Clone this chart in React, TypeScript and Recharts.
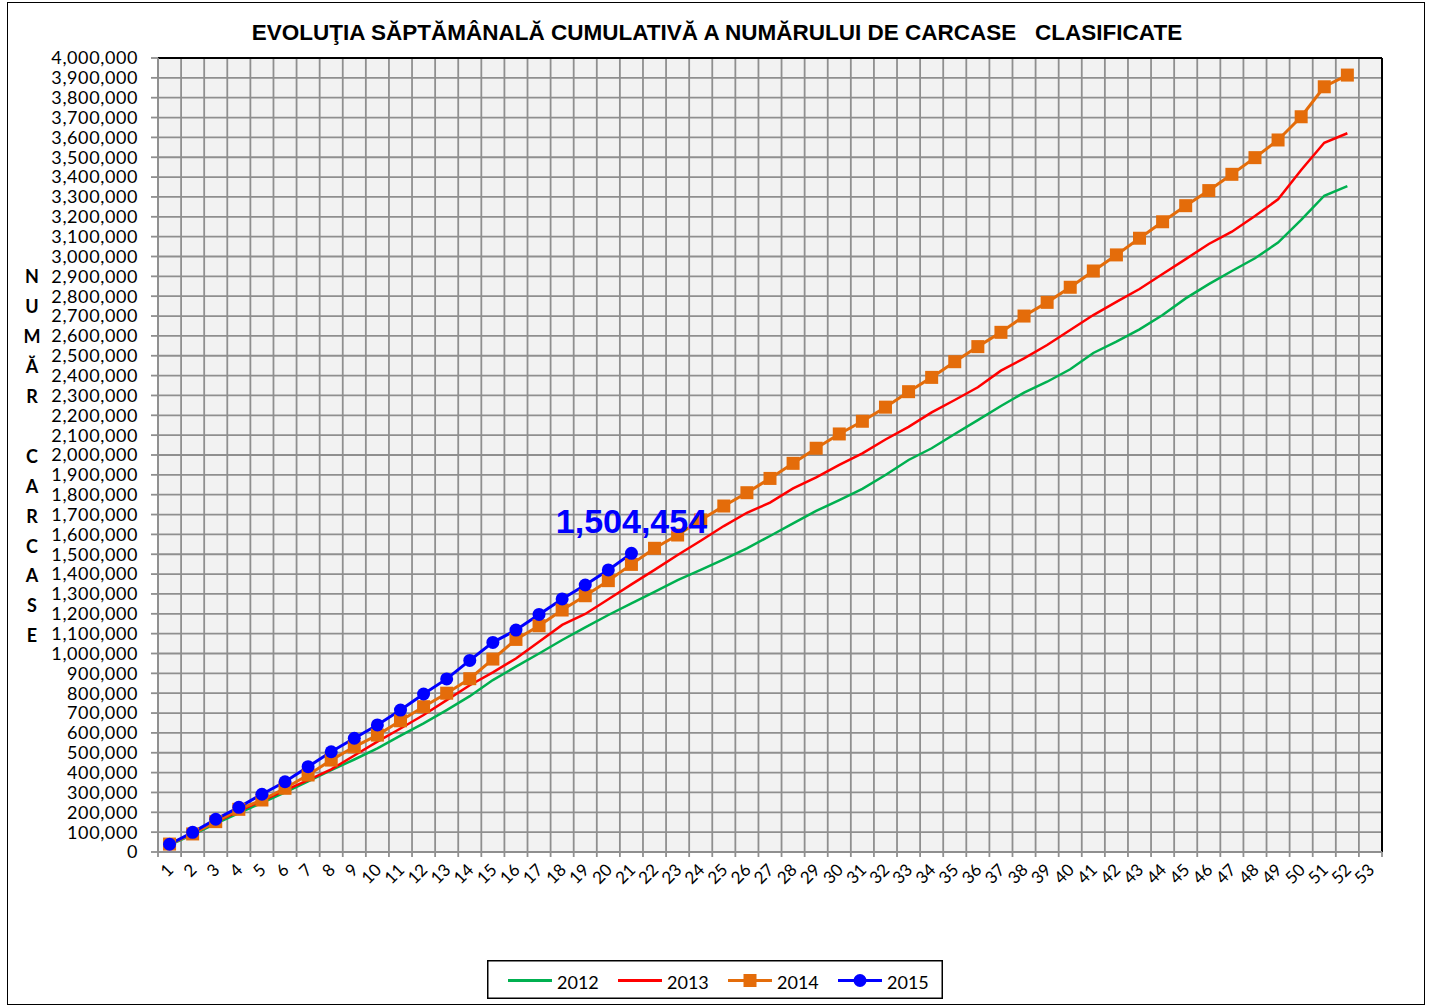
import React from 'react';
import { LineChart, Line, XAxis, YAxis, CartesianGrid, ReferenceLine, LabelList } from 'recharts';

// week numbers on the category axis (53 slots, data runs to 52)
const weekLabels = [
  1, 2, 3, 4, 5, 6, 7, 8, 9, 10, 11, 12, 13, 14, 15, 16, 17, 18, 19, 20,
  21, 22, 23, 24, 25, 26, 27, 28, 29, 30, 31, 32, 33, 34, 35, 36, 37, 38, 39, 40,
  41, 42, 43, 44, 45, 46, 47, 48, 49, 50, 51, 52, 53,
];

const y2012 = [
  35000, 88000, 143000, 196000, 248000, 300000, 356000, 412000, 466000, 522000,
  586000, 648000, 715000, 785000, 866000, 934000, 1000000, 1068000, 1132000, 1194000,
  1253000, 1311000, 1370000, 1421000, 1474000, 1530000, 1592000, 1656000, 1718000, 1773000,
  1829000, 1899000, 1975000, 2034000, 2106000, 2176000, 2247000, 2314000, 2369000, 2432000,
  2514000, 2571000, 2633000, 2705000, 2789000, 2861000, 2927000, 2991000, 3070000, 3184000,
  3306000, 3355000,
];

const y2013 = [
  40000, 94000, 150000, 206000, 258000, 310000, 362000, 416000, 486000, 556000,
  622000, 690000, 765000, 840000, 905000, 975000, 1059000, 1144000, 1199000, 1273000,
  1348000, 1421000, 1496000, 1568000, 1642000, 1709000, 1760000, 1832000, 1887000, 1950000,
  2008000, 2078000, 2142000, 2215000, 2277000, 2341000, 2425000, 2487000, 2554000, 2630000,
  2705000, 2771000, 2836000, 2912000, 2987000, 3063000, 3125000, 3204000, 3288000, 3436000,
  3573000, 3621000,
];

const y2014 = [
  40000, 91000, 153000, 215000, 262000, 321000, 388000, 463000, 530000, 589000,
  661000, 732000, 800000, 873000, 972000, 1071000, 1140000, 1219000, 1291000, 1367000,
  1449000, 1530000, 1597000, 1673000, 1743000, 1810000, 1882000, 1958000, 2034000, 2106000,
  2170000, 2241000, 2319000, 2391000, 2470000, 2546000, 2618000, 2700000, 2769000, 2845000,
  2927000, 3008000, 3092000, 3175000, 3256000, 3332000, 3414000, 3498000, 3587000, 3704000,
  3855000, 3914000,
];

const y2015 = [
  39000, 99000, 165000, 225000, 291000, 354000, 430000, 505000, 573000, 640000,
  715000, 796000, 872000, 965000, 1056000, 1118000, 1197000, 1275000, 1345000, 1421000,
  1504454,
];

const yTicks = Array.from({ length: 41 }, (_, i) => i * 100000);
const xBoundaries = [...weekLabels.map((w) => w - 0.5), 53.5];

const data = weekLabels.slice(0, 52).map((w, i) => ({
  week: w,
  a2012: y2012[i],
  a2013: y2013[i],
  a2014: y2014[i],
  a2015: i < y2015.length ? y2015[i] : null,
}));

const GRID = '#8f8f8f';
const C2012 = '#00b050';
const C2013 = '#ff0000';
const C2014 = '#e46c0a';
const C2015 = '#0000ff';
const LABEL_FONT = 'Lato, "Noto Sans", sans-serif';

const PLOT_W = 1224;
const HALF_BAND = PLOT_W / 53 / 2;

const fmt = (v: number) => v.toLocaleString('en-US');

const WeekTick = ({ x, y, payload }: any) => {
  const v = payload.value + 0.5;
  if (v > 53) return null;
  const px = x + HALF_BAND + 5;
  const py = y + 12;
  return (
    <text x={px} y={py} transform={`rotate(-45 ${px} ${py})`} textAnchor="end"
      fontFamily={LABEL_FONT} fontSize={17} fill="#000">
      {v}
    </text>
  );
};

const SquareDot = ({ cx, cy }: any) => {
  if (cx == null || cy == null) return null;
  return <rect x={cx - 6.5} y={cy - 6.5} width={13} height={13} fill={C2014} />;
};

const LastValue = (props: any) => {
  const { x, y, index, value } = props;
  if (index !== y2015.length - 1) return null;
  return (
    <text x={x} y={y - 20} textAnchor="middle" fontFamily='"Liberation Sans", Arial, sans-serif'
      fontWeight="bold" fontSize={34} fill={C2015}>
      {fmt(value)}
    </text>
  );
};

const axisTitle = ['N', 'U', 'M', 'Ă', 'R', '', 'C', 'A', 'R', 'C', 'A', 'S', 'E'];

const YTitle = () => (
  <g>
    {axisTitle.map((ch, i) => (
      <text key={i} x={32} y={277 + i * 29.9} dy="0.36em" textAnchor="middle"
        fontFamily={LABEL_FONT} fontWeight="bold" fontSize={18} fill="#000">
        {ch}
      </text>
    ))}
  </g>
);

const legendItems = [
  { name: '2012', color: C2012, marker: 'none' },
  { name: '2013', color: C2013, marker: 'none' },
  { name: '2014', color: C2014, marker: 'square' },
  { name: '2015', color: C2015, marker: 'circle' },
];

const ChartLegend = () => (
  <svg width={456} height={39} style={{ position: 'absolute', left: 487, top: 960, display: 'block' }}>
    <rect x={0.75} y={0.75} width={454.5} height={37.5} fill="#fff" stroke="#000" strokeWidth={1.5} />
    {legendItems.map((it, i) => {
      const x0 = 21 + i * 110;
      return (
        <g key={it.name}>
          <line x1={x0} y1={20.5} x2={x0 + 44} y2={20.5} stroke={it.color} strokeWidth={3} />
          {it.marker === 'square' && <rect x={x0 + 15.5} y={14} width={13} height={13} fill={it.color} />}
          {it.marker === 'circle' && <circle cx={x0 + 22} cy={20.5} r={6.5} fill={it.color} />}
          <text x={x0 + 49} y={29} fontFamily={LABEL_FONT} fontSize={18} fill="#000">{it.name}</text>
        </g>
      );
    })}
  </svg>
);

export default function App() {
  return (
    <div style={{ position: 'absolute', left: 0, top: 0, width: 1431, height: 1007, background: '#fff' }}>
      <div style={{ position: 'absolute', left: 7, top: 2, width: 1416, height: 1001, border: '1.5px solid #000' }} />
      <div style={{
        position: 'absolute', left: 0, top: 20, width: 1434, textAlign: 'center', whiteSpace: 'pre',
        fontFamily: '"Liberation Sans", Arial, sans-serif', fontWeight: 'bold', fontSize: 22.5, color: '#000',
      }}>
        {'EVOLUŢIA SĂPTĂMÂNALĂ CUMULATIVĂ A NUMĂRULUI DE CARCASE   CLASIFICATE'}
      </div>
      <div style={{ position: 'absolute', left: 0, top: 0 }}>
        <LineChart width={1431} height={1007} data={data}
          margin={{ top: 58, right: 49, bottom: 95, left: 0 }}>
          <CartesianGrid fill="#f2f2f2" stroke={GRID} strokeWidth={1.8} />
          <XAxis type="number" dataKey="week" domain={[0.5, 53.5]} ticks={xBoundaries} interval={0}
            height={60} tick={<WeekTick />} tickSize={5}
            axisLine={{ stroke: GRID, strokeWidth: 1.8 }} tickLine={{ stroke: GRID, strokeWidth: 1.8 }} />
          <YAxis type="number" domain={[0, 4000000]} ticks={yTicks} interval={0} width={158}
            tickFormatter={fmt} tickSize={7} tickMargin={13}
            tick={{ fontFamily: LABEL_FONT, fontSize: 18, fill: '#000', letterSpacing: 0.6 }}
            axisLine={{ stroke: GRID, strokeWidth: 1.8 }} tickLine={{ stroke: GRID, strokeWidth: 1.8 }}
            label={{ content: () => <YTitle /> }} />
          <ReferenceLine y={4000000} stroke="#000" strokeWidth={2} />
          <ReferenceLine x={53.5} stroke="#000" strokeWidth={2} />
          <Line dataKey="a2012" stroke={C2012} strokeWidth={2.5} dot={false} isAnimationActive={false} />
          <Line dataKey="a2013" stroke={C2013} strokeWidth={2.5} dot={false} isAnimationActive={false} />
          <Line dataKey="a2014" stroke={C2014} strokeWidth={3} dot={<SquareDot />} isAnimationActive={false} />
          <Line dataKey="a2015" stroke={C2015} strokeWidth={3} isAnimationActive={false}
            dot={{ r: 6.5, fill: C2015, stroke: C2015, strokeWidth: 0 }}>
            <LabelList dataKey="a2015" content={<LastValue />} />
          </Line>
        </LineChart>
      </div>
      <ChartLegend />
    </div>
  );
}
